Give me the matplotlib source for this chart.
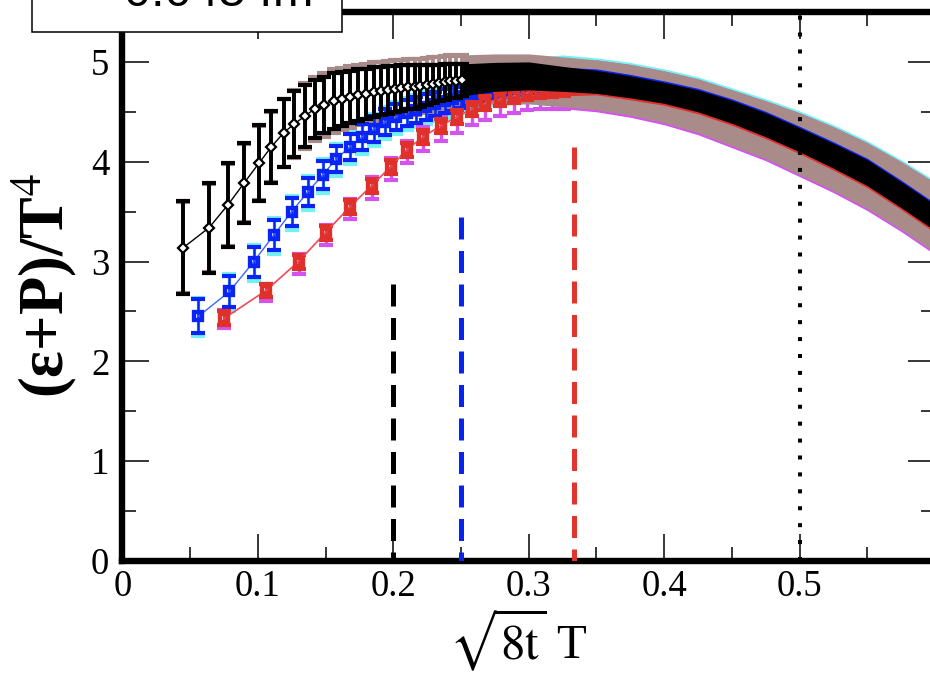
import numpy as np
import matplotlib.pyplot as plt
from matplotlib.patches import Rectangle

plt.rcParams['font.family'] = 'Liberation Serif'
plt.rcParams['mathtext.fontset'] = 'stix'

# black diamonds: discrete flow times, then the dense part as a band
black_x = [0.045, 0.064, 0.078, 0.090, 0.101, 0.110, 0.119, 0.127, 0.135, 0.142,
           0.149, 0.156, 0.162, 0.168, 0.174, 0.180, 0.186, 0.191, 0.196, 0.201,
           0.206, 0.211, 0.216, 0.220, 0.225, 0.229, 0.234, 0.238, 0.242, 0.246, 0.251]
black_y = [3.14, 3.34, 3.57, 3.79, 3.99, 4.15, 4.29, 4.38, 4.46, 4.53,
           4.57, 4.61, 4.63, 4.65, 4.67, 4.68, 4.70, 4.71, 4.72, 4.73,
           4.74, 4.75, 4.75, 4.76, 4.77, 4.78, 4.79, 4.80, 4.81, 4.81, 4.82]
black_err = [0.47, 0.45, 0.42, 0.40, 0.38, 0.36, 0.34, 0.33, 0.31, 0.29,
             0.28, 0.28, 0.27, 0.26, 0.26, 0.25, 0.25, 0.24, 0.24, 0.23,
             0.23, 0.22, 0.22, 0.21, 0.20, 0.19, 0.18, 0.18, 0.17, 0.17, 0.16]
black_band_x = [0.251, 0.275, 0.300, 0.325, 0.350, 0.375, 0.400, 0.425,
                0.450, 0.475, 0.500, 0.525, 0.550, 0.575, 0.600]
black_band_y = [4.82, 4.85, 4.86, 4.83, 4.80, 4.75, 4.69, 4.61,
                4.50, 4.37, 4.22, 4.06, 3.89, 3.67, 3.44]
black_band_err = [0.16, 0.145, 0.14, 0.125, 0.115, 0.11, 0.105, 0.11,
                  0.115, 0.12, 0.12, 0.125, 0.13, 0.13, 0.13]

# brown: same points with the larger error
brown_y = [3.14, 3.34, 3.57, 3.79, 3.99, 4.15, 4.29, 4.38, 4.46, 4.53,
           4.57, 4.61, 4.63, 4.65, 4.67, 4.68, 4.70, 4.71, 4.72, 4.73,
           4.74, 4.75, 4.75, 4.76, 4.77, 4.78, 4.79, 4.80, 4.81, 4.81, 4.82]
brown_err = [0.46, 0.44, 0.41, 0.39, 0.37, 0.35, 0.34, 0.34, 0.33, 0.32,
             0.32, 0.32, 0.31, 0.31, 0.30, 0.30, 0.30, 0.29, 0.29, 0.29,
             0.28, 0.28, 0.28, 0.27, 0.27, 0.27, 0.26, 0.26, 0.26, 0.25, 0.25]
brown_band_y = [4.82, 4.83, 4.83, 4.80, 4.77, 4.72, 4.65, 4.56,
                4.44, 4.32, 4.18, 4.03, 3.86, 3.66, 3.44]
brown_band_err = [0.25, 0.25, 0.25, 0.25, 0.25, 0.255, 0.26, 0.27,
                  0.28, 0.29, 0.31, 0.32, 0.33, 0.34, 0.35]

# blue squares (+ cyan)
blue_x = [0.056, 0.079, 0.097, 0.112, 0.125, 0.137, 0.148, 0.158, 0.168, 0.177,
          0.186, 0.194, 0.202, 0.210, 0.217, 0.224, 0.231, 0.238, 0.244, 0.250]
blue_y = [2.45, 2.70, 3.00, 3.27, 3.50, 3.70, 3.87, 4.03, 4.15, 4.25,
          4.33, 4.40, 4.45, 4.49, 4.52, 4.55, 4.58, 4.61, 4.63, 4.66]
blue_err = [0.17, 0.16, 0.15, 0.15, 0.14, 0.14, 0.14, 0.13, 0.13, 0.13,
            0.13, 0.13, 0.13, 0.13, 0.13, 0.13, 0.12, 0.12, 0.12, 0.12]
blue_band_x = [0.250, 0.275, 0.300, 0.325, 0.350, 0.375, 0.400, 0.425,
               0.450, 0.475, 0.500, 0.525, 0.550, 0.575, 0.600]
blue_band_y = [4.66, 4.74, 4.79, 4.82, 4.81, 4.76, 4.70, 4.62,
               4.51, 4.38, 4.23, 4.07, 3.90, 3.68, 3.45]
blue_band_err = [0.12, 0.12, 0.12, 0.125, 0.12, 0.115, 0.11, 0.115,
                 0.12, 0.125, 0.125, 0.13, 0.135, 0.135, 0.135]

cyan_y = [2.44, 2.69, 2.99, 3.26, 3.49, 3.69, 3.86, 4.02, 4.14, 4.24,
          4.32, 4.39, 4.44, 4.48, 4.51, 4.54, 4.57, 4.60, 4.62, 4.65]
cyan_err = [0.19, 0.19, 0.18, 0.18, 0.17, 0.17, 0.17, 0.16, 0.16, 0.16,
            0.16, 0.16, 0.16, 0.16, 0.16, 0.16, 0.16, 0.16, 0.16, 0.16]
cyan_band_y = [4.65, 4.75, 4.81, 4.81, 4.78, 4.73, 4.66, 4.57,
               4.45, 4.33, 4.19, 4.04, 3.87, 3.67, 3.45]
cyan_band_err = [0.16, 0.19, 0.23, 0.26, 0.26, 0.265, 0.27, 0.28,
                 0.29, 0.30, 0.32, 0.33, 0.34, 0.35, 0.36]

# red squares (+ magenta)
red_x = [0.075, 0.106, 0.130, 0.150, 0.168, 0.184, 0.198, 0.210, 0.222, 0.235,
         0.247, 0.258, 0.268, 0.279, 0.289, 0.299, 0.308, 0.317, 0.326]
red_y = [2.43, 2.71, 3.00, 3.29, 3.55, 3.76, 3.95, 4.12, 4.25, 4.36,
         4.45, 4.53, 4.59, 4.63, 4.66, 4.69, 4.71, 4.72, 4.73]
red_err = [0.07, 0.07, 0.07, 0.07, 0.07, 0.07, 0.07, 0.07, 0.07, 0.07,
           0.07, 0.07, 0.07, 0.07, 0.07, 0.07, 0.07, 0.07, 0.07]
red_band_x = [0.326, 0.350, 0.375, 0.400, 0.425, 0.450, 0.475, 0.500,
              0.525, 0.550, 0.575, 0.600]
red_band_y = [4.73, 4.76, 4.72, 4.67, 4.59, 4.48, 4.35, 4.20,
              4.04, 3.87, 3.65, 3.42]
red_band_err = [0.07, 0.09, 0.10, 0.105, 0.11, 0.115, 0.12, 0.12,
                0.125, 0.13, 0.13, 0.13]

magenta_y = [2.42, 2.69, 2.98, 3.27, 3.53, 3.74, 3.93, 4.10, 4.23, 4.34,
             4.43, 4.51, 4.57, 4.61, 4.64, 4.67, 4.69, 4.70, 4.71]
magenta_err = [0.09, 0.09, 0.10, 0.10, 0.10, 0.11, 0.11, 0.11, 0.12, 0.13,
               0.14, 0.14, 0.15, 0.15, 0.15, 0.15, 0.16, 0.17, 0.18]
magenta_band_y = [4.71, 4.76, 4.71, 4.64, 4.55, 4.43, 4.31, 4.17,
                  4.02, 3.85, 3.65, 3.43]
magenta_band_err = [0.18, 0.26, 0.265, 0.27, 0.28, 0.29, 0.30, 0.32,
                    0.33, 0.34, 0.35, 0.36]

# vertical guides
guide_x = [0.2, 0.25, 1 / 3]
guide_top = [2.77, 3.45, 4.15]
guide_colors = ['black', '#0a24f0', '#e0342c']
dotted_x = 0.5

BLACK, BROWN = 'black', '#a98c8a'
BLUE, CYAN = '#0a24f5', '#72f2f2'
RED, MAGENTA = '#e0302a', '#d452ee'


def draw_set(ax, x, y, err, bx, by, be, color, zorder, elw=2.4):
    # sparse points as error bars, dense part as a filled band
    ax.errorbar(x, y, yerr=err, fmt='none', ecolor=color, elinewidth=elw,
                capsize=5.0, capthick=3.0, zorder=zorder)
    by, be = np.asarray(by), np.asarray(be)
    ax.fill_between(bx, by - be, by + be, color=color, lw=0, zorder=zorder)


fig = plt.figure(figsize=(9.3, 6.73), dpi=100)
ax = fig.add_axes([0.1317, 0.1664, 0.8737, 0.8158])

draw_set(ax, blue_x, cyan_y, cyan_err, blue_band_x, cyan_band_y, cyan_band_err, CYAN, 1.0)
draw_set(ax, red_x, magenta_y, magenta_err, red_band_x, magenta_band_y, magenta_band_err, MAGENTA, 1.1)
draw_set(ax, black_x, brown_y, brown_err, black_band_x, brown_band_y, brown_band_err, BROWN, 1.2, elw=2.8)
draw_set(ax, blue_x, blue_y, blue_err, blue_band_x, blue_band_y, blue_band_err, BLUE, 2.0, elw=1.8)
draw_set(ax, red_x, red_y, red_err, red_band_x, red_band_y, red_band_err, RED, 2.2, elw=1.8)
draw_set(ax, black_x, black_y, black_err, black_band_x, black_band_y, black_band_err, BLACK, 3.0, elw=2.8)

ax.plot(blue_x, blue_y, color='#3a66ff', lw=1.0, marker='s', ms=6.4, mew=3.1,
        mfc='none', mec=BLUE, zorder=2.1)
ax.plot(red_x, red_y, color='#ee4a58', lw=1.2, marker='s', ms=6.4, mew=3.1,
        mfc='none', mec=RED, zorder=2.3)
ax.plot(black_x, black_y, color=BLACK, lw=1.0, marker='D', ms=5.4, mew=1.6,
        mfc='white', mec=BLACK, zorder=3.1)

for gx, gt, gc in zip(guide_x, guide_top, guide_colors):
    ax.plot([gx, gx], [gt, 0], color=gc, lw=3.6, dashes=(4.4, 2.3), zorder=5)
ax.plot([dotted_x, dotted_x], [0, 5.5], color='black', lw=2.9, dashes=(1, 3.2), zorder=5)

ax.set_xlim(0, 0.6)
ax.set_ylim(0, 5.5)
ax.set_xticks([0, 0.1, 0.2, 0.3, 0.4, 0.5])
ax.set_xticklabels(['0', '0.1', '0.2', '0.3', '0.4', '0.5'])
ax.set_xticks([0.05, 0.15, 0.25, 0.35, 0.45, 0.55], minor=True)
ax.set_yticks([0, 1, 2, 3, 4, 5])
ax.set_yticks([0.5, 1.5, 2.5, 3.5, 4.5, 5.5], minor=True)
ax.tick_params(which='both', direction='in', top=True, right=True, width=1.1,
               labelsize=26.5)
ax.tick_params(which='major', length=19.5)
ax.tick_params(which='minor', length=10)
ax.tick_params(axis='x', pad=6)
ax.tick_params(axis='y', pad=9.5)
for sp in ax.spines.values():
    sp.set_linewidth(4.6)

fig.text(63 / 930, 1 - 286 / 673, r'(ε+P)/T$^{\mathrm{4}}$', fontsize=45,
         fontweight='bold', rotation=90, rotation_mode='anchor',
         ha='center', va='baseline')
fig.text(518 / 930, 14 / 673, r'$\sqrt{8\mathrm{t}}$ T', fontsize=35,
         ha='center', va='baseline')

# lattice spacing box, sits over the top-left corner of the frame
box = Rectangle((32 / 930, 1 - 32 / 673), 310 / 930, 0.08, transform=fig.transFigure,
                facecolor='white', edgecolor='black', lw=1.1, zorder=10)
fig.add_artist(box)
fig.text(219 / 930, 1 - 6 / 673, '0.045 fm', family='Liberation Sans', fontsize=35,
         ha='center', va='baseline', zorder=11)

fig.savefig('out.png', dpi=100)
